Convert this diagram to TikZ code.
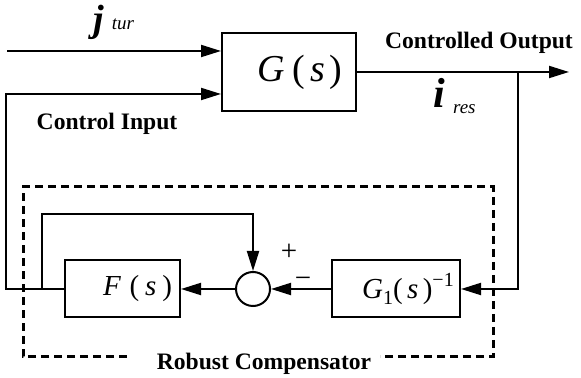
\documentclass[tikz,border=0pt]{standalone}
\usepackage{fontspec}
\setmainfont{Liberation Serif}
\newfontfamily\tnr{Liberation Serif}
\usetikzlibrary{arrows.meta,positioning}

\begin{document}
\begin{tikzpicture}[
      x=0.5pt, y=0.5pt,
      >={Triangle[length=10pt,width=6pt]},
      block/.style={draw, line width=1pt, minimum height=28.5pt, inner sep=0pt},
      sumnode/.style={draw, circle, line width=1pt, minimum size=17pt, inner sep=0pt},
      link/.style={->, line width=1pt},
      frame/.style={line width=1.5pt, dash pattern=on 4pt off 2.5pt},
      lbl/.style={font=\tnr\bfseries\fontsize{11.8}{13}\selectfont, inner sep=0pt},
      sym/.style={font=\tnr\fontsize{14.5}{16}\selectfont},
    ]
    \useasboundingbox (0,0) rectangle (581,378);
    % plant
    \node[block, minimum width=67pt, minimum height=39pt, font=\tnr\fontsize{19}{20}\selectfont]
      (plant) at (289,306) {\hspace*{11pt}\textit{G}\hspace{.2em}(\hspace{.12em}\textit{s}\hspace{.12em})};
    % compensator loop
    \node[block, minimum width=64pt, sym] (inv) at (396,89)
      {\hspace*{12pt}\textit{G}\raisebox{-3pt}{\fontsize{10}{11}\selectfont 1}(\hspace{.15em}\textit{s}\hspace{.15em})\raisebox{6pt}{\fontsize{10}{11}\selectfont −1}};
    \node[sumnode, left=30pt of inv] (sum) {};
    \node[block, minimum width=57.5pt, sym, left=27pt of sum] (filt)
      {\hspace*{15pt}\textit{F}\hspace{.3em}(\hspace{.2em}\textit{s}\hspace{.2em})};
    \node[sym] (plus) at (289,126) {+};
    \node[sym] (minus) at (303,96) {−};
    % labels
    \node[anchor=base west, inner sep=0pt, font=\tnr] (jtur) at (93,346)
      {\fontsize{19}{20}\selectfont\bfseries\itshape j\hspace{4pt}\raisebox{1pt}{\mdseries\fontsize{9.5}{10}\selectfont tur}};
    \node[anchor=base west, inner sep=0pt, font=\tnr] (ires) at (433,270)
      {\fontsize{21}{22}\selectfont\bfseries\itshape i\hspace{4pt}\raisebox{-3pt}{\mdseries\fontsize{9.5}{10}\selectfont res}};
    \node[lbl, anchor=base] (outlbl) at (479,329) {Controlled Output};
    \node[lbl, anchor=base] (inlbl) at (107,248) {Control Input};
    \node[lbl, anchor=base] (rclbl) at (264,8) {Robust Compensator};
    \draw[frame] (127,21) -| (23,191) -| (493,21) -- (380,21);
    % signals
    \coordinate (src) at (7,327);
    \coordinate (out) at (569,306);
    \coordinate (tap) at (518,306);
    \coordinate (cl) at (6,284);
    \coordinate (fb) at (42,89);
    \coordinate (fbtop) at (42,164);
    \draw[link] (src) -- (src -| plant.west);
    \draw[link] (plant.east) -- (out);
    \draw[link] (tap) |- (inv.east);
    \draw[link] (inv.west) -- (sum.east);
    \draw[link] (sum.west) -- (filt.east);
    \draw[link] (filt.west) -| (cl) -- (cl -| plant.west);
    \draw[link] (fb) -- (fbtop) -| (sum.north);
  \end{tikzpicture}
\end{document}
